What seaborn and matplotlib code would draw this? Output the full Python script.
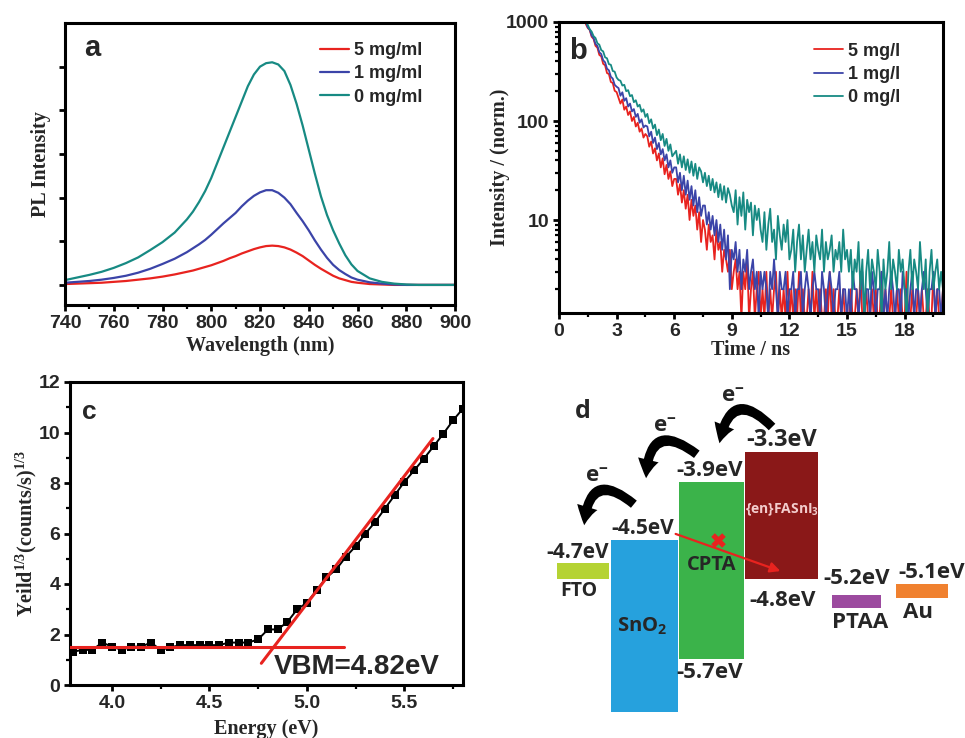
import numpy as np
import pandas as pd
import matplotlib
matplotlib.use("Agg")
import matplotlib.pyplot as plt
import seaborn as sns
from matplotlib.patches import FancyArrowPatch
from matplotlib.ticker import MultipleLocator, LogLocator, NullFormatter

sns.set_theme(style="ticks")
plt.rcParams["font.family"] = ["Liberation Sans", "DejaVu Sans"]
plt.rcParams["font.weight"] = "bold"
plt.rcParams["mathtext.fontset"] = "custom"
plt.rcParams["mathtext.rm"] = "Liberation Serif:bold"
plt.rcParams["mathtext.it"] = "Liberation Serif:bold"
plt.rcParams["mathtext.sf"] = "Open Sans:bold"
plt.rcParams["axes.linewidth"] = 2.2
plt.rcParams["axes.edgecolor"] = "black"

RED, BLUE, TEAL = "#e8231f", "#3b44a8", "#178a83"
SERIF = "Liberation Serif"

# ---- panel a : PL spectra ----
PL_LABELS = ["5 mg/ml", "1 mg/ml", "0 mg/ml"]
WAVELENGTH = [740, 745, 750, 755, 760, 765, 770, 775, 780, 785,
              790, 792.5, 795, 797.5, 800, 802.5, 805, 807.5, 810, 812.5, 815, 817.5,
              820, 822.5, 825, 827.5, 830, 832.5, 835, 837.5, 840, 842.5, 845, 847.5,
              850, 852.5, 855, 857.5, 860,
              865, 870, 875, 880, 885, 890, 895, 900]
PL_5 = [0.02, 0.03, 0.04, 0.05, 0.07, 0.09, 0.12, 0.15, 0.19, 0.24,
        0.30, 0.33, 0.37, 0.41, 0.45, 0.50, 0.55, 0.61, 0.66, 0.72, 0.77, 0.82,
        0.86, 0.89, 0.90, 0.89, 0.86, 0.81, 0.74, 0.66, 0.56, 0.46, 0.37, 0.29,
        0.21, 0.15, 0.11, 0.07, 0.05,
        0.02, 0.01, 0, 0, 0, 0, 0, 0]
PL_1 = [0.05, 0.07, 0.09, 0.12, 0.16, 0.21, 0.28, 0.37, 0.48, 0.60,
        0.75, 0.84, 0.93, 1.03, 1.15, 1.28, 1.41, 1.53, 1.65, 1.80, 1.93, 2.04,
        2.12, 2.17, 2.17, 2.11, 2.00, 1.85, 1.65, 1.46, 1.25, 1.02, 0.81, 0.62,
        0.46, 0.34, 0.25, 0.17, 0.12,
        0.06, 0.03, 0.01, 0, 0, 0, 0, 0]
PL_0 = [0.11, 0.17, 0.23, 0.30, 0.39, 0.50, 0.63, 0.80, 0.98, 1.20,
        1.50, 1.68, 1.90, 2.15, 2.45, 2.80, 3.15, 3.50, 3.85, 4.20, 4.55, 4.82,
        5.00, 5.08, 5.10, 5.05, 4.90, 4.58, 4.15, 3.65, 3.10, 2.55, 2.03, 1.60,
        1.25, 0.95, 0.68, 0.47, 0.32,
        0.15, 0.07, 0.03, 0.01, 0, 0, 0, 0]

# ---- panel b : TRPL decays (0.1 ns channels from 1.4 ns) ----
TR_LABELS = ["5 mg/l", "1 mg/l", "0 mg/l"]
TR_5 = [950, 870, 830, 710, 675, 575, 550, 465, 450, 378, 365, 305, 298, 248, 242, 202, 196,
        172, 150, 165, 130, 140, 115, 125, 100, 110, 88, 96, 78, 84, 68, 74,
        70, 55, 62, 47, 53, 40, 47, 34, 42, 29, 36, 26, 31, 22, 26,
        26, 18, 23, 15, 20, 13, 18, 10, 16, 11, 14, 8, 12, 6, 10,
        8, 5, 9, 6, 7, 4, 8, 5, 6, 3, 5, 4, 3, 5, 2,
        3, 4, 2, 3, 1, 3, 2, 4, 1, 2, 3, 1, 2, 3, 1,
        2, 1, 3, 1, 2, 1, 2, 3, 1, 2, 1, 2, 1, 3, 1,
        2, 1, 2, 1, 3, 1, 2, 1, 1, 2, 1, 3, 1, 2, 1, 2, 1, 1, 2, 1, 3, 1, 2, 1, 1, 2, 1, 2, 1, 1,
        1, 2, 1, 1, 2, 1, 3, 1, 1, 2, 1, 1, 2, 1, 2, 1, 1, 3, 1, 2, 1, 1, 2, 1, 1,
        2, 1, 2, 1, 1, 3, 1, 1, 2, 1, 1, 2, 1, 2, 1, 1, 2, 1, 1, 3, 1, 2, 1, 1, 2]
TR_1 = [1000, 880, 840, 730, 690, 600, 575, 495, 475, 410, 392, 338, 325, 280, 268, 232, 222,
        215, 180, 195, 160, 170, 140, 150, 125, 132, 110, 118, 96, 104, 86, 90,
        88, 70, 78, 60, 68, 52, 60, 46, 52, 40, 46, 34, 40, 30, 34,
        34, 24, 30, 20, 28, 18, 25, 16, 22, 14, 20, 12, 17, 11, 14,
        14, 9, 12, 8, 11, 7, 10, 6, 9, 5, 8, 4, 7, 2, 5,
        4, 6, 3, 5, 2, 4, 3, 5, 2, 3, 4, 2, 3, 1, 3,
        2, 3, 2, 1, 3, 2, 4, 2, 1, 3, 2, 2, 3, 1, 2,
        2, 3, 1, 2, 2, 3, 1, 2, 3, 2, 1, 2, 3, 2, 2, 1, 3, 2, 1, 2, 3, 2, 1, 2, 2, 3, 1, 2, 2, 1,
        2, 1, 3, 2, 2, 1, 2, 3, 1, 2, 2, 1, 3, 2, 1, 2, 2, 3, 1, 2, 1, 2, 3, 2, 1,
        2, 2, 1, 3, 2, 2, 1, 2, 3, 1, 2, 2, 1, 2, 3, 2, 1, 2, 2, 3, 1, 2, 2, 1, 2]
TR_0 = [1000, 935, 845, 800, 720, 690, 610, 590, 520, 505, 440, 430, 375, 370, 320, 315, 275,
        260, 255, 228, 232, 200, 205, 178, 183, 155, 162, 140, 146, 124, 131, 110,
        118, 95, 104, 84, 92, 72, 82, 64, 74, 56, 66, 50, 58, 44, 47,
        50, 37, 46, 34, 44, 32, 41, 30, 39, 28, 37, 26, 34, 31, 24,
        30, 22, 28, 20, 26, 19, 24, 17, 23, 16, 22, 15, 21, 18, 14,
        12, 20, 9, 17, 11, 19, 8, 16, 12, 15, 7, 14, 10, 13, 8,
        6, 12, 5, 9, 13, 6, 8, 4, 11, 7, 5, 9, 6, 10, 4,
        5, 8, 3, 6, 9, 4, 7, 3, 5, 8, 4, 6, 3, 7, 5, 4, 8, 3, 6, 4, 5, 7, 3, 5, 4, 6, 3, 8, 4, 5,
        3, 5, 2, 4, 3, 6, 2, 4, 1, 3, 5, 2, 4, 3, 2, 5, 3, 1, 4, 2, 3, 6, 2, 4, 3,
        2, 5, 3, 4, 2, 1, 3, 5, 2, 4, 3, 2, 6, 3, 2, 4, 1, 3, 5, 2, 3, 4, 2, 3, 2]

# ---- panel c : photoelectron yield (0.05 eV steps from 3.80 eV) ----
YIELD = [1.32, 1.39, 1.39, 1.68, 1.52, 1.39, 1.52, 1.52, 1.68, 1.39, 1.49, 1.58, 1.58,
         1.58, 1.58, 1.58, 1.68, 1.68, 1.68, 1.81, 2.20, 2.20, 2.50, 3.00, 3.26, 3.76,
         4.26, 4.58, 5.08, 5.50, 6.00, 6.46, 6.99, 7.52, 8.05, 8.50, 8.97, 9.46, 9.96,
         10.49, 10.95]
BASE_X, BASE_Y = [3.78, 5.19], [1.5, 1.5]
SLOPE_X, SLOPE_Y = [4.766, 5.646], [0.86, 9.76]

# ---- panel d : energy level schematic (drawing units) ----
LAYERS = ["FTO", "SnO2", "CPTA", "FASnI3", "PTAA", "Au"]
LAYER_LEFT = [557, 611, 679, 745, 832, 896]
LAYER_RIGHT = [609, 678, 744, 818, 881, 948]
LAYER_TOP = [563, 540, 482, 452, 595, 584]
LAYER_BOTTOM = [579, 712, 659, 579, 608, 598]
LAYER_COLORS = ["#b5d334", "#26a1dd", "#3bb34a", "#8a1818", "#9c4a9f", "#f0812f"]


def style_axes(ax):
    ax.tick_params(which="both", direction="out", top=False, right=False,
                   labelsize=14, width=2, color="black", pad=2.5)
    ax.tick_params(which="major", length=4.5)
    ax.tick_params(which="minor", length=3, width=1.6)
    for lab in ax.get_xticklabels() + ax.get_yticklabels():
        lab.set_fontweight("bold")
    for sp in ax.spines.values():
        sp.set_visible(True)
        sp.set_linewidth(2.2)


W, H = 965, 738
fig = plt.figure(figsize=(W / 100, H / 100), dpi=100)


def add_ax(x0, y0, x1, y1):
    return fig.add_axes([x0 / W, 1 - y1 / H, (x1 - x0) / W, (y1 - y0) / H])


# ---------------- a ----------------
ax_a = add_ax(65, 23, 455, 305)
df_a = pd.concat([
    pd.DataFrame({"wl": WAVELENGTH, "pl": v, "s": lab})
    for lab, v in zip(PL_LABELS, [PL_5, PL_1, PL_0])
])
sns.lineplot(data=df_a, x="wl", y="pl", hue="s", hue_order=PL_LABELS,
             palette=[RED, BLUE, TEAL], lw=1.6, errorbar=None, ax=ax_a)
ax_a.set_xlim(740, 900)
ax_a.set_ylim(-0.46, 6.0)
ax_a.xaxis.set_major_locator(MultipleLocator(20))
ax_a.xaxis.set_minor_locator(MultipleLocator(10))
ax_a.set_yticks(range(6))
ax_a.set_yticklabels([])
ax_a.set_xlabel("Wavelength (nm)", family=SERIF, fontsize=14.5, fontweight="bold", labelpad=3)
ax_a.set_ylabel("PL Intensity", family=SERIF, fontsize=14.5, fontweight="bold", labelpad=3)
style_axes(ax_a)
ax_a.legend(loc="upper left", bbox_to_anchor=(0.63, 0.965), frameon=False, borderpad=0,
            handlelength=1.6, handletextpad=0.3, labelspacing=0.35,
            prop={"size": 13, "weight": "bold"})
ax_a.text(0.07, 0.91, "a", transform=ax_a.transAxes, fontsize=21, fontweight="bold",
          ha="center", va="center")

# ---------------- b ----------------
ax_b = add_ax(559, 22, 943, 313)
ax_b.set_yscale("log")
df_b = pd.concat([
    pd.DataFrame({"t": 1.4 + 0.1 * np.arange(len(v)), "i": v, "s": lab})
    for lab, v in zip(TR_LABELS, [TR_5, TR_1, TR_0])
])
sns.lineplot(data=df_b, x="t", y="i", hue="s", hue_order=TR_LABELS,
             palette=[RED, BLUE, TEAL], lw=1.3, errorbar=None, ax=ax_b)
ax_b.set_xlim(0, 20)
ax_b.set_ylim(1.15, 1000)
ax_b.xaxis.set_major_locator(MultipleLocator(3))
ax_b.xaxis.set_minor_locator(MultipleLocator(1.5))
ax_b.set_yticks([10, 100, 1000], labels=["10", "100", "1000"])
ax_b.yaxis.set_minor_locator(LogLocator(base=10, subs=np.arange(2, 10)))
ax_b.yaxis.set_minor_formatter(NullFormatter())
ax_b.set_xlabel("Time / ns", family=SERIF, fontsize=14.5, fontweight="bold", labelpad=0)
ax_b.set_ylabel("Intensity / (norm.)", family=SERIF, fontsize=14.5, fontweight="bold", labelpad=-3)
style_axes(ax_b)
ax_b.legend(loc="upper left", bbox_to_anchor=(0.64, 0.96), frameon=False, borderpad=0,
            handlelength=1.6, handletextpad=0.3, labelspacing=0.35,
            prop={"size": 13, "weight": "bold"})
ax_b.text(0.05, 0.9, "b", transform=ax_b.transAxes, fontsize=21, fontweight="bold",
          ha="center", va="center")

# ---------------- c ----------------
ax_c = add_ax(70, 382, 463, 685)
df_c = pd.DataFrame({"E": np.round(3.80 + 0.05 * np.arange(len(YIELD)), 2), "Y": YIELD})
sns.lineplot(data=df_c, x="E", y="Y", color="black", lw=1.4, errorbar=None, ax=ax_c)
sns.scatterplot(data=df_c, x="E", y="Y", color="black", marker="s", s=32,
                linewidth=0, ax=ax_c, zorder=3)
ax_c.plot(BASE_X, BASE_Y, color=RED, lw=2.2, zorder=4)
ax_c.plot(SLOPE_X, SLOPE_Y, color=RED, lw=2.2, zorder=4)
ax_c.text(4.83, 0.72, "VBM=4.82eV", fontsize=20, fontweight="bold", ha="left", va="center")
ax_c.set_xlim(3.785, 5.80)
ax_c.set_ylim(0, 12)
ax_c.xaxis.set_major_locator(MultipleLocator(0.5))
ax_c.xaxis.set_minor_locator(MultipleLocator(0.25))
ax_c.yaxis.set_major_locator(MultipleLocator(2))
ax_c.yaxis.set_minor_locator(MultipleLocator(1))
ax_c.set_xlabel("Energy (eV)", family=SERIF, fontsize=14.5, fontweight="bold", labelpad=5)
ax_c.set_ylabel(r"Yeild$^{1/3}$(counts/s)$^{1/3}$", family=SERIF, fontsize=14.5,
                fontweight="bold", labelpad=0)
style_axes(ax_c)
ax_c.text(0.05, 0.9, "c", transform=ax_c.transAxes, fontsize=19, fontweight="bold",
          ha="center", va="center")

# ---------------- d ----------------
ax_d = add_ax(520, 370, 965, 738)
ax_d.set_xlim(520, 965)
ax_d.set_ylim(738, 370)
ax_d.axis("off")
left = np.array(LAYER_LEFT)
right = np.array(LAYER_RIGHT)
top = np.array(LAYER_TOP)
bottom = np.array(LAYER_BOTTOM)
ax_d.bar((left + right) / 2, bottom - top, bottom=top, width=right - left,
         color=LAYER_COLORS, linewidth=0)

OF = ["Open Sans", "DejaVu Sans"]
level_text = [
    ("-4.7eV", 578, 553, 15), ("-4.5eV", 643, 529, 15), ("-3.9eV", 710, 470, 16),
    ("-5.7eV", 710, 673, 16), ("-3.3eV", 782, 440, 17), ("-4.8eV", 783, 601, 16),
    ("-5.2eV", 857, 579, 16), ("-5.1eV", 932, 572, 16),
    ("FTO", 579, 591, 14), ("CPTA", 712, 565, 14.5), ("PTAA", 860, 622, 16), ("Au", 918, 612, 16),
]
for txt, x, y, fs in level_text:
    ax_d.text(x, y, txt, family=OF, fontsize=fs, fontweight="bold",
              ha="center", va="center")
ax_d.text(642, 625, r"SnO$_\mathsf{2}$", family=OF, fontsize=14.5,
          fontweight="bold", ha="center", va="center")
ax_d.text(782, 510, r"{en}FASnI$_\mathsf{3}$", family=OF, fontsize=10,
          fontweight="bold", color="#f3cccc", ha="center", va="center")
ax_d.text(583, 412, "d", family=OF, fontsize=18, fontweight="bold",
          ha="center", va="center")

# electron transfer arrows
hops = [((636, 506), (584, 528), (597, 477)),
        ((699, 456), (646, 481), (665, 427)),
        ((774, 429), (719, 446), (733, 397))]
for tail, head, lab in hops:
    ax_d.add_patch(FancyArrowPatch(tail, head, connectionstyle="arc3,rad=1.0",
                                   arrowstyle="simple,head_length=0.7,head_width=0.8,tail_width=0.35",
                                   mutation_scale=19, color="black", lw=0))
    ax_d.text(lab[0], lab[1], r"e$^{\mathsf{-}}$", family=OF, fontsize=16,
              fontweight="bold", ha="center", va="center")

ax_d.add_patch(FancyArrowPatch((673, 533), (783, 572), arrowstyle="-|>,head_length=6,head_width=3",
                               color=RED, lw=1.6))
ax_d.scatter([718], [540], marker="X", s=110, color=RED, linewidths=0, zorder=5)

fig.savefig("out.png", dpi=100)
